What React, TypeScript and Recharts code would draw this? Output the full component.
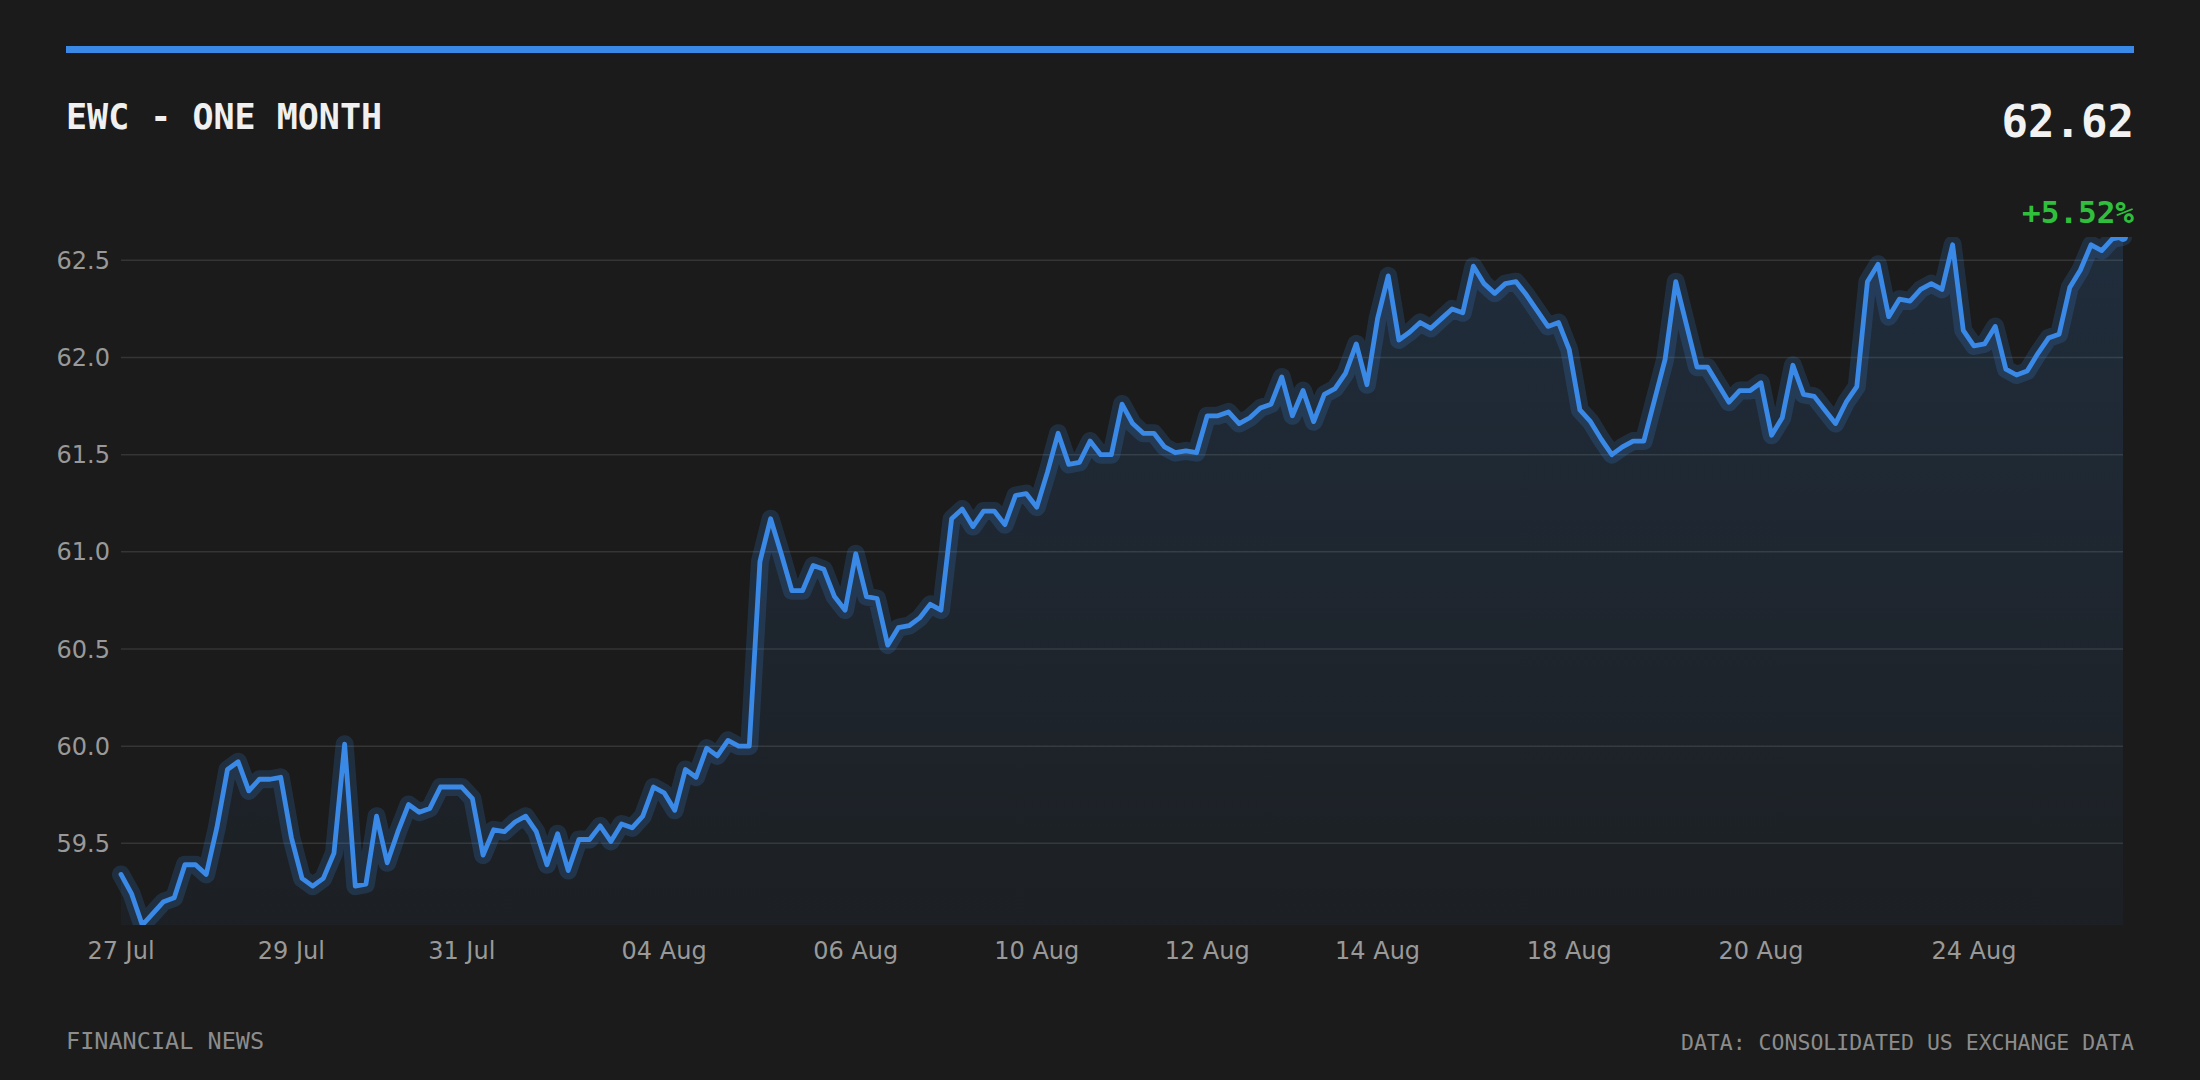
import { ComposedChart, Area, Line, XAxis, YAxis, CartesianGrid } from 'recharts';

// EWC closing prices, one month of intraday points
const prices = [
  59.34, 59.24, 59.08, 59.14, 59.2, 59.22, 59.39, 59.39, 59.34, 59.58,
  59.88, 59.92, 59.77, 59.83, 59.83, 59.84, 59.53, 59.32, 59.28, 59.32,
  59.45, 60.01, 59.28, 59.29, 59.64, 59.4, 59.56, 59.7, 59.66, 59.68,
  59.79, 59.79, 59.79, 59.73, 59.44, 59.57, 59.56, 59.61, 59.64, 59.56,
  59.39, 59.55, 59.36, 59.52, 59.52, 59.59, 59.51, 59.6, 59.58, 59.64,
  59.79, 59.76, 59.67, 59.88, 59.84, 59.99, 59.95, 60.03, 60.0, 60.0,
  60.95, 61.17, 60.99, 60.8, 60.8, 60.93, 60.91, 60.77, 60.7, 60.99,
  60.77, 60.76, 60.52, 60.61, 60.62, 60.66, 60.73, 60.7, 61.17, 61.22,
  61.13, 61.21, 61.21, 61.14, 61.29, 61.3, 61.23, 61.41, 61.61, 61.45,
  61.46, 61.57, 61.5, 61.5, 61.76, 61.66, 61.61, 61.61, 61.54, 61.51,
  61.52, 61.51, 61.7, 61.7, 61.72, 61.66, 61.69, 61.74, 61.76, 61.9,
  61.7, 61.83, 61.67, 61.81, 61.84, 61.92, 62.07, 61.86, 62.2, 62.42,
  62.09, 62.13, 62.18, 62.15, 62.2, 62.25, 62.23, 62.47, 62.38, 62.33,
  62.38, 62.39, 62.32, 62.24, 62.16, 62.18, 62.04, 61.73, 61.67, 61.58,
  61.5, 61.54, 61.57, 61.57, 61.78, 61.99, 62.39, 62.17, 61.95, 61.95,
  61.86, 61.77, 61.83, 61.83, 61.87, 61.6, 61.69, 61.96, 61.81, 61.8,
  61.73, 61.66, 61.77, 61.85, 62.39, 62.48, 62.21, 62.3, 62.29, 62.35,
  62.38, 62.35, 62.58, 62.14, 62.06, 62.07, 62.16, 61.94, 61.91, 61.93,
  62.02, 62.1, 62.12, 62.36, 62.45, 62.58, 62.55, 62.61, 62.62,
];

// which point each date label sits on
const tickIndex = [0, 16, 32, 51, 69, 86, 102, 118, 136, 154, 174];
const tickLabels = [
  '27 Jul', '29 Jul', '31 Jul', '04 Aug', '06 Aug', '10 Aug',
  '12 Aug', '14 Aug', '18 Aug', '20 Aug', '24 Aug',
];
const yTicks = [59.5, 60, 60.5, 61, 61.5, 62, 62.5];

const title = 'EWC - ONE MONTH';
const lastPrice = '62.62';
const change = '+5.52%';
const footerLeft = 'FINANCIAL NEWS';
const footerRight = 'DATA: CONSOLIDATED US EXCHANGE DATA';

const BLUE = '#3a89e6';
const BG = '#1b1b1b';
const MONO = '"DejaVu Sans Mono", monospace';
const SANS = '"DejaVu Sans", sans-serif';

const data = prices.map((price, i) => ({ i, price }));
const lastIdx = prices.length - 1;

const tickStyle = { fill: '#999999', fontSize: 24, fontFamily: SANS };

export default function App() {
  return (
    <div
      style={{
        position: 'absolute',
        left: 0,
        top: 0,
        width: 2200,
        height: 1080,
        background: BG,
        overflow: 'hidden',
      }}
    >
      <div style={{ position: 'absolute', left: 0, top: 0 }}>
        <ComposedChart
          width={2200}
          height={1080}
          data={data}
          margin={{ top: 237, right: 77, bottom: 115, left: 61 }}
        >
          <defs>
            <linearGradient id="ewcFill" x1="0" y1="0" x2="0" y2="1">
              <stop offset="0%" stopColor={BLUE} stopOpacity={0.16} />
              <stop offset="100%" stopColor={BLUE} stopOpacity={0.04} />
            </linearGradient>
          </defs>
          <CartesianGrid
            vertical={false}
            horizontalValues={yTicks}
            stroke="#353535"
            strokeWidth={1.5}
          />
          <XAxis
            dataKey="i"
            type="number"
            domain={[0, lastIdx]}
            ticks={tickIndex}
            interval={0}
            tickFormatter={(v: number) => tickLabels[tickIndex.indexOf(v)] ?? ''}
            axisLine={false}
            tickLine={false}
            tickSize={6}
            tickMargin={11}
            height={40}
            tick={tickStyle}
          />
          <YAxis
            type="number"
            domain={['dataMin', 'dataMax']}
            allowDataOverflow
            ticks={yTicks}
            interval={0}
            tickFormatter={(v: number) => v.toFixed(1)}
            axisLine={false}
            tickLine={false}
            tickSize={6}
            tickMargin={5}
            width={60}
            tick={tickStyle}
          />
          <Area
            type="linear"
            dataKey="price"
            stroke="none"
            fill="url(#ewcFill)"
            fillOpacity={1}
            isAnimationActive={false}
            dot={false}
            activeDot={false}
          />
          <Line
            type="linear"
            dataKey="price"
            stroke={BLUE}
            strokeOpacity={0.19}
            strokeWidth={18}
            strokeLinejoin="round"
            strokeLinecap="round"
            dot={false}
            activeDot={false}
            isAnimationActive={false}
          />
          <Line
            type="linear"
            dataKey="price"
            stroke={BLUE}
            strokeWidth={4.8}
            strokeLinejoin="round"
            strokeLinecap="round"
            dot={(p: any) =>
              p.index === lastIdx ? (
                <circle key="last" cx={p.cx} cy={p.cy} r={5} fill={BLUE} />
              ) : (
                <g key={p.index} />
              )
            }
            activeDot={false}
            isAnimationActive={false}
          />
        </ComposedChart>
      </div>
      <svg
        width={2200}
        height={1080}
        style={{ position: 'absolute', left: 0, top: 0, pointerEvents: 'none' }}
      >
        <rect x={66} y={46} width={2068} height={7} fill={BLUE} />
        <text x={66} y={129} fill="#f0f0f0" fontFamily={MONO} fontWeight="bold" fontSize={35}>
          {title}
        </text>
        <text x={2134} y={137} fill="#f2f2f2" fontFamily={MONO} fontWeight="bold" fontSize={44} textAnchor="end">
          {lastPrice}
        </text>
        <text x={2134} y={223} fill="#2fbf3c" fontFamily={MONO} fontWeight="bold" fontSize={31} textAnchor="end">
          {change}
        </text>
        <text x={66} y={1049} fill="#8c8c8c" fontFamily={MONO} fontSize={23.5}>
          {footerLeft}
        </text>
        <text x={2134} y={1050} fill="#8c8c8c" fontFamily={MONO} fontSize={21.5} textAnchor="end">
          {footerRight}
        </text>
      </svg>
    </div>
  );
}
